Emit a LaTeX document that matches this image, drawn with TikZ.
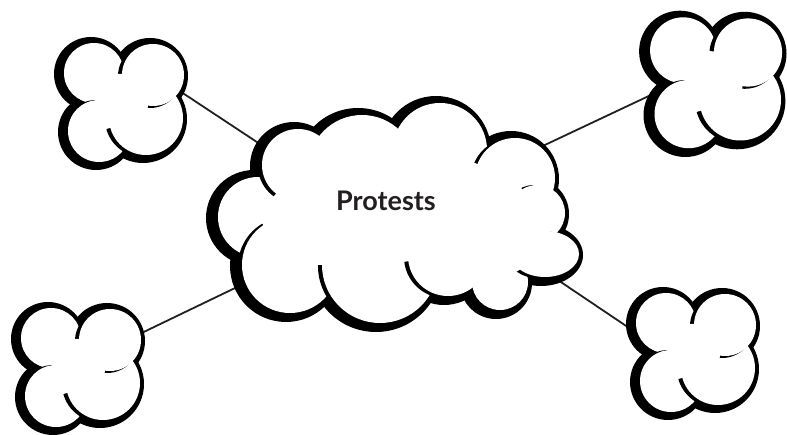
\documentclass[tikz,border=0pt]{standalone}
\usepackage{fontspec}
\setsansfont{Lato}
\definecolor{ink}{HTML}{231F20}
\tikzset{link/.style={draw=ink,line width=1.8pt},
  cloudtext/.style={font=\sffamily\bfseries\fontsize{27}{30}\selectfont,text=ink},
  puff/.pic={
    \foreach \dx/\dy/\r in {-29/-27/30,30/-25/31,-24/31/31,23/18/37}
      \fill[black] (\dx-3,\dy+1) circle [radius=\r+7];
    \foreach \dx/\dy/\r in {-29/-27/30,-24/31/31,23/18/37,30/-25/31}{
      \fill[black] (\dx-3,\dy+1) circle [radius=\r+1];
      \fill[white] (\dx,\dy) circle [radius=\r];}
    \fill[white] (-29,-27) -- (30,-25) -- (23,18) -- (-24,31) -- cycle;}}
\begin{document}
\begin{tikzpicture}[x=1pt,y=-1pt]
\fill[white] (0,0) rectangle (787,435);
\useasboundingbox (0,0) rectangle (787,435);
\coordinate (tl) at (123,100);
\coordinate (tr) at (715,80);
\coordinate (bl) at (80,365);
\coordinate (br) at (695,350);
\coordinate (tl-in) at (160,78);  \coordinate (tl-hub) at (275,154);
\coordinate (tr-in) at (670,86);  \coordinate (tr-hub) at (530,152);
\coordinate (bl-in) at (125,341); \coordinate (bl-hub) at (260,276);
\coordinate (br-in) at (650,342); \coordinate (br-hub) at (540,268);
\foreach \c in {tl,tr,bl,br}{\draw[link] (\c-in) -- (\c-hub);}
\foreach \x/\y/\a/\b in {258/217/40/40,440/150/47/47,362/169/54/54,298/165/36/36,
  515/178/40/40,537/213/28/28,500/282/28/28,545/254/34/23,290/265/48/48,
  380/265/58/58,448/256/40/40}
  \fill[black] (\x-4,\y+1) ellipse [x radius=\a+8,y radius=\b+8];
\foreach \x/\y/\a/\b in {258/217/40/40,440/150/47/47,362/169/54/54,298/165/36/36,
  515/178/40/40,537/213/28/28,500/282/28/28,545/254/34/23,290/265/48/48,
  380/265/58/58,448/256/40/40}{
  \fill[black] (\x-3,\y+1) ellipse [x radius=\a+1,y radius=\b+1];
  \fill[white] (\x,\y) ellipse [x radius=\a,y radius=\b];}
\fill[white] (258,217) -- (298,165) -- (362,169) -- (440,150) -- (515,178) -- (537,213)
  -- (545,254) -- (500,282) -- (448,256) -- (380,265) -- (290,265) -- cycle;
\pic at (tl) {puff};
\pic[scale=1.1] at (tr) {puff};
\pic at (bl) {puff};
\pic at (br) {puff};
\node[cloudtext,anchor=base] (hub) at (386,211) {Protests};
\end{tikzpicture}
\end{document}
